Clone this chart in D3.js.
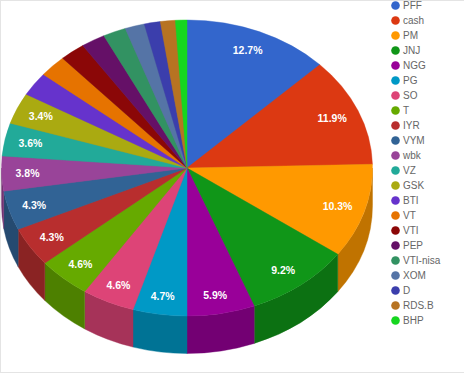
<!DOCTYPE html>
<html>
<head>
<meta charset="utf-8">
<script src="https://cdn.jsdelivr.net/npm/d3@7"></script>
<style>
    html, body { margin: 0; padding: 0; background: #fff; overflow: hidden; }
    svg { display: block; font-family: "Liberation Sans", Arial, sans-serif; }
</style>
</head>
<body>
<div id="chart"></div>
<script>
const names = ["PFF", "cash", "PM", "JNJ", "NGG", "PG", "SO", "T", "IYR", "VYM", "wbk", "VZ", "GSK",
    "BTI", "VT", "VTI", "PEP", "VTI-nisa", "XOM", "D", "RDS.B", "BHP"];
const shares = [12.7, 11.9, 10.3, 9.2, 5.9, 4.7, 4.6, 4.6, 4.3, 4.3, 3.8, 3.6, 3.4,
    2.6, 2.4, 2.2, 2.1, 2.0, 1.7, 1.4, 1.3, 1.0];
const colors = ["#3366cc", "#dc3912", "#ff9900", "#109618", "#990099", "#0099c6", "#dd4477", "#66aa00",
    "#b82e2e", "#316395", "#994499", "#22aa99", "#aaaa11", "#6633cc", "#e67300", "#8b0707",
    "#651067", "#329262", "#5574a6", "#3b3eac", "#b77322", "#16d620"];
const minLabelShare = 3;

const width = 464, height = 374;
const cx = 187, cy = 168, rx = 185.5, ry = 148, depth = 37.5;

const svg = d3.select("#chart")
    .append("svg")
    .attr("width", width)
    .attr("height", height);

// frame around the screenshot
svg.append("rect").attr("x", 0).attr("y", 0).attr("width", width).attr("height", 1).attr("fill", "#e4e4e4");
svg.append("rect").attr("x", 0).attr("y", 0).attr("width", 1).attr("height", 373).attr("fill", "#e4e4e4");
svg.append("rect").attr("x", 0).attr("y", 372).attr("width", width).attr("height", 1).attr("fill", "#e4e4e4");

const pie = d3.pie().sort(null).value(d => d);
const slices = pie(shares);

const ex = a => cx + rx * Math.sin(a);
const ey = a => cy - ry * Math.cos(a);
const mid = d => (d.startAngle + d.endAngle) / 2;

// side wall, only the part of the rim that faces the viewer
function wallPath(d) {
    const a0 = Math.max(d.startAngle, Math.PI / 2);
    const a1 = Math.min(d.endAngle, Math.PI * 1.5);
    if (a1 <= a0) return null;
    return "M" + ex(a0) + "," + ey(a0)
        + "A" + rx + "," + ry + " 0 0 1 " + ex(a1) + "," + ey(a1)
        + "L" + ex(a1) + "," + (ey(a1) + depth)
        + "A" + rx + "," + ry + " 0 0 0 " + ex(a0) + "," + (ey(a0) + depth)
        + "Z";
}

svg.append("g").attr("class", "walls")
    .selectAll("path")
    .data(slices)
    .join("path")
    .attr("d", wallPath)
    .attr("fill", (d, i) => d3.rgb(colors[i]).darker(0.8))
    .attr("stroke", (d, i) => d3.rgb(colors[i]).darker(0.8))
    .attr("stroke-width", 0.4);

const arc = d3.arc().innerRadius(0).outerRadius(rx);

const tops = svg.append("g").attr("class", "tops")
    .attr("transform", "translate(" + cx + "," + cy + ") scale(1," + (ry / rx) + ")");

// keeps the white page from bleeding through the seams between slices
tops.append("circle").attr("r", rx - 0.5).attr("fill", "#777");

tops.selectAll("path")
    .data(slices)
    .join("path")
    .attr("d", arc)
    .attr("fill", (d, i) => colors[i])
    .attr("stroke", (d, i) => colors[i])
    .attr("stroke-width", 0.5)
    .attr("stroke-linejoin", "bevel");

svg.append("g").attr("class", "labels")
    .selectAll("text")
    .data(slices.filter(d => d.value > minLabelShare))
    .join("text")
    .attr("x", d => cx - 1 + 0.855 * rx * Math.sin(mid(d)))
    .attr("y", d => cy + 0.5 - 0.87 * ry * Math.cos(mid(d)))
    .attr("dy", "0.35em")
    .attr("text-anchor", "middle")
    .attr("fill", "#fff")
    .attr("font-size", 10.5)
    .attr("font-weight", "bold")
    .text(d => d.value.toFixed(1) + "%");

const legendY = d3.scalePoint()
    .domain(names)
    .range([5.5, 5.5 + 15 * (names.length - 1)]);

const legend = svg.append("g").attr("class", "legend")
    .selectAll("g")
    .data(names)
    .join("g")
    .attr("transform", d => "translate(395.5," + legendY(d) + ")");

legend.append("circle")
    .attr("r", 4.3)
    .attr("fill", (d, i) => colors[i]);

legend.append("text")
    .attr("x", 7.5)
    .attr("dy", "0.36em")
    .attr("fill", "#666")
    .attr("font-size", 10)
    .text(d => d);
</script>
</body>
</html>
